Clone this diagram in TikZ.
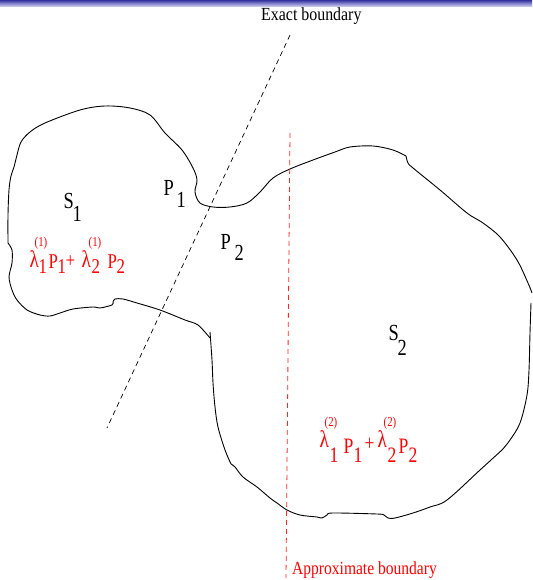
\documentclass[tikz,border=0pt]{standalone}
\usepackage{fontspec}
\setmainfont{Liberation Serif}
\usepackage{graphicx}
\newcommand{\gl}[3]{\rlap{\hspace*{#1pt}\raisebox{#2pt}{\scalebox{0.8}[1]{#3}}}}
\tikzset{
  outline/.style={line width=0.9pt, line join=round},
  exact/.style={line width=0.7pt, dash pattern=on 5pt off 4pt},
  approx/.style={line width=0.8pt, red!85, dash pattern=on 5pt off 4pt},
  lbl/.style={inner sep=0pt, anchor=base west, font=\fontsize{23}{23}\selectfont},
  redlbl/.style={lbl, text=red},
  caption/.style={inner sep=0pt, anchor=base west, font=\fontsize{18.5}{18.5}\selectfont},
}
\newcommand{\supsz}{\fontsize{13.5}{13.5}\selectfont}
\newcommand{\lam}{{\fontsize{24}{24}\selectfont λ}}
\begin{document}
\begin{tikzpicture}[x=1pt,y=-1pt]
\useasboundingbox (0,0) rectangle (532,580);
% header bar
\shade[top color={rgb,255:red,50;green,50;blue,160}, bottom color={rgb,255:red,220;green,220;blue,248}] (0,0) rectangle (532,7);

% outline of the two regions
\draw[outline] plot[smooth, tension=0.55] coordinates {
 (8,243) (8,215) (9,190) (11,176) (14,167) (17,155) (21,142) (30,132) (45,123)
 (80,110) (105,106) (130,108) (150,115) (165,133) (182,150) (193,168) (197,180)
 (195,192) (200,203) (213,207) (230,207) (247,203) (260,192) (273,178) (290,169)
 (313,160) (335,152) (350,147) (373,146) (393,150) (406,156)};
\draw[outline] plot[smooth, tension=0.55] coordinates {
 (406,156) (408,163) (413,168) (440,190) (467,213) (483,223) (500,237) (517,260)
 (528,283) (532,293)};
\draw[outline] plot[smooth, tension=0.55] coordinates {
 (531,303) (530,333) (529,370) (527,395) (520,423) (510,440) (502,450)};
\draw[outline] plot[smooth, tension=0.55] coordinates {
 (502,450) (480,470) (447,500) (430,507) (413,513) (395,518) (388,518) (384,515)
 (377,514) (333,513) (327,515) (322,518) (317,517) (300,515) (287,510) (277,503)
 (270,498) (257,487) (243,477) (235,467) (231,464)};
\draw[outline] plot[smooth, tension=0.55] coordinates {
 (231,464) (225,450) (218,427) (215,407) (213,383) (212,360) (210,332)};
\draw[outline] plot[smooth, tension=0.5] coordinates {
 (210,338) (198,325) (185,320) (160,310) (137,303) (123,299) (115,299) (113,302)};
\draw[outline] plot[smooth, tension=0.5] coordinates {
 (113,302) (112,305) (100,308) (93,307) (73,309) (60,313) (50,316) (40,315)
 (27,310) (17,300) (12,290) (9,277) (12,263) (12,250) (8,243)};

% boundaries
\coordinate (exTop) at (290,35);
\coordinate (exBot) at (107,428);
\draw[exact] (exTop) -- (exBot);
\coordinate (apTop) at (290,133);
\coordinate (apBot) at (286,578);
\draw[approx] (apTop) -- (apBot);

% captions
\node[caption] (exlab) at (261,21) {\scalebox{0.86}[1]{Exact boundary}};
\node[caption, text=red] (aplab) at (292,574) {\scalebox{0.84}[1]{Approximate boundary}};

% labels
\node[lbl] (s1) at (63,208) {\gl{0}{0}{S}\gl{9}{-13}{1}};
\node[lbl] (p1) at (163,195) {\gl{0}{0}{P}\gl{13}{-12}{1}};
\node[lbl] (p2) at (220,249) {\gl{0}{0}{P}\gl{14}{-11}{2}};
\node[lbl] (s2) at (388,340) {\gl{0}{0}{S}\gl{9}{-15}{2}};

\node[redlbl, font=\fontsize{21}{21}\selectfont] (comb1) at (29,267) {%
 \gl{0}{0}{\lam}\gl{5}{20.5}{\supsz(1)}\gl{9}{-6}{1}%
 \gl{19}{-1}{P}\gl{28}{-6}{1}\gl{36}{0}{+}%
 \gl{52}{0}{\lam}\gl{59}{20.5}{\supsz(1)}\gl{62}{-6}{2}%
 \gl{78}{-1}{P}\gl{87}{-6}{2}};

\node[redlbl, font=\fontsize{22}{22}\selectfont] (comb2) at (319,447) {%
 \gl{0}{0}{\lam}\gl{5}{20.5}{\supsz(2)}\gl{10}{-15}{1}%
 \gl{24}{-6}{P}\gl{34}{-15}{1}\gl{45}{-3}{+}%
 \gl{58}{0}{\lam}\gl{64}{20.5}{\supsz(2)}\gl{68}{-15}{2}%
 \gl{79}{-6}{P}\gl{89}{-15}{2}};
\end{tikzpicture}
\end{document}
